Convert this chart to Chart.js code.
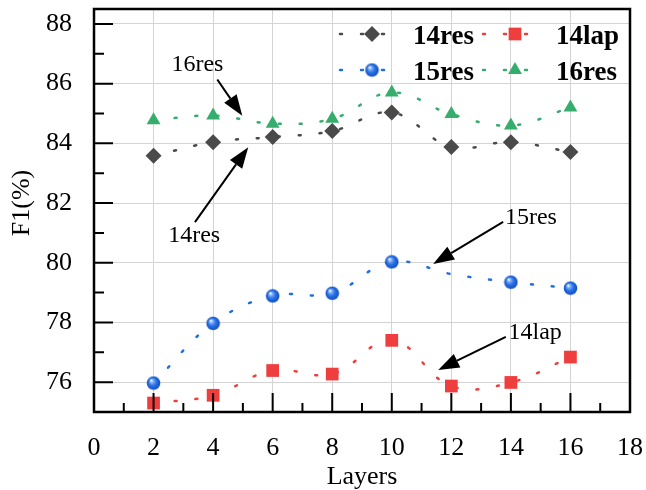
<!DOCTYPE html>
<html>
<head>
<meta charset="utf-8">
<title>F1 vs Layers</title>
<script src="https://cdn.jsdelivr.net/npm/chart.js@4.4.1/dist/chart.umd.min.js"></script>
<style>
  html, body { margin: 0; padding: 0; background: #fff; }
  #wrap { width: 646px; height: 490px; }
</style>
</head>
<body>
<div id="wrap"><canvas id="f1Chart" width="646" height="490"></canvas></div>
<script>
// === Data ===
const layers = [2, 4, 6, 8, 10, 12, 14, 16];
const res14 = [83.58, 84.04, 84.21, 84.41, 85.03, 83.88, 84.04, 83.71];
const lap14 = [75.30, 75.56, 76.39, 76.27, 77.40, 75.87, 75.99, 76.84];
const res15 = [75.97, 77.97, 78.89, 78.98, 80.03, 79.62, 79.35, 79.15];
const res16 = [84.77, 84.93, 84.66, 84.82, 85.70, 84.98, 84.60, 85.20];
const res15Shown = [true, true, true, true, true, false, true, true]; // no marker at 12
const xTicks = [0, 2, 4, 6, 8, 10, 12, 14, 16, 18];
const yTicks = [76, 78, 80, 82, 84, 86, 88];
const xMinor = [1, 3, 5, 7, 9, 11, 13, 15, 17];
const yMinor = [77, 79, 81, 83, 85, 87];

const SERIF = "'Liberation Serif', 'Times New Roman', serif";

// shaded ball marker used for 15res
function makeSphere(r) {
    const c = document.createElement('canvas');
    const s = Math.ceil(r * 2) + 1;
    c.width = c.height = s;
    const g = c.getContext('2d');
    const cx = s / 2;
    const grad = g.createRadialGradient(cx - r * 0.35, cx - r * 0.4, r * 0.05, cx, cx, r);
    grad.addColorStop(0, '#ffffff');
    grad.addColorStop(0.22, '#7fb0f7');
    grad.addColorStop(0.55, '#2a72e6');
    grad.addColorStop(1, '#0f4cc0');
    g.fillStyle = grad;
    g.beginPath();
    g.arc(cx, cx, r, 0, Math.PI * 2);
    g.fill();
    return c;
}
const sphere = makeSphere(6.8);

const series = [
    { label: '14res', values: res14, color: '#4a4a4a', style: 'rectRot', radius: 8 },
    { label: '14lap', values: lap14, color: '#ef3e3e', style: 'rect', radius: 9 },
    { label: '15res', values: res15, color: '#1f6fe3', style: sphere, radius: 6.8 },
    { label: '16res', values: res16, color: '#35ad6c', style: 'triangle', radius: 8 }
];

// notes drawn on the plot, positions in data units
const notes = [
    { text: '16res', tx: 2.6, ty: 86.41, from: [4.14, 86.14], to: [4.98, 84.92] },
    { text: '14res', tx: 2.49, ty: 80.71, from: [3.39, 81.36], to: [5.18, 83.87] },
    { text: '15res', tx: 13.8, ty: 81.3, from: [13.74, 81.37], to: [11.39, 79.96] },
    { text: '14lap', tx: 13.92, ty: 77.43, from: [13.83, 77.52], to: [11.56, 76.41] }
];

const DASH = [2, 19];

function drawArrow(ctx, x0, y0, x1, y1) {
    const ang = Math.atan2(y1 - y0, x1 - x0);
    const hl = 21, hw = 7.5;
    const bx = x1 - hl * Math.cos(ang), by = y1 - hl * Math.sin(ang);
    ctx.beginPath();
    ctx.moveTo(x0, y0);
    ctx.lineTo(bx, by);
    ctx.stroke();
    ctx.beginPath();
    ctx.moveTo(x1, y1);
    ctx.lineTo(bx + hw * Math.sin(ang), by - hw * Math.cos(ang));
    ctx.lineTo(bx - hw * Math.sin(ang), by + hw * Math.cos(ang));
    ctx.closePath();
    ctx.fill();
}

const framePlugin = {
    id: 'frameAndNotes',
    afterDatasetsDraw(chart) {
        const { ctx, chartArea: a, scales: { x, y } } = chart;
        ctx.save();

        // ticks pointing inwards
        ctx.strokeStyle = '#000';
        ctx.lineWidth = 2;
        ctx.beginPath();
        xTicks.forEach(v => { const px = x.getPixelForValue(v); ctx.moveTo(px, a.bottom); ctx.lineTo(px, a.bottom - 19); });
        xMinor.forEach(v => { const px = x.getPixelForValue(v); ctx.moveTo(px, a.bottom); ctx.lineTo(px, a.bottom - 9); });
        yTicks.forEach(v => { const py = y.getPixelForValue(v); ctx.moveTo(a.left, py); ctx.lineTo(a.left + 19, py); });
        yMinor.forEach(v => { const py = y.getPixelForValue(v); ctx.moveTo(a.left, py); ctx.lineTo(a.left + 10, py); });
        ctx.stroke();

        // frame
        ctx.lineWidth = 2.5;
        ctx.strokeRect(a.left, a.top, a.right - a.left, a.bottom - a.top);

        // notes with arrows
        ctx.fillStyle = '#000';
        ctx.lineWidth = 2;
        ctx.font = '24px ' + SERIF;
        ctx.textAlign = 'left';
        ctx.textBaseline = 'alphabetic';
        notes.forEach(n => {
            ctx.fillText(n.text, x.getPixelForValue(n.tx), y.getPixelForValue(n.ty));
            drawArrow(ctx,
                x.getPixelForValue(n.from[0]), y.getPixelForValue(n.from[1]),
                x.getPixelForValue(n.to[0]), y.getPixelForValue(n.to[1]));
        });

        // legend, two columns
        const cols = [341, 484];
        const rows = [34, 70];
        series.forEach((s, i) => {
            const lx = cols[i % 2], ly = rows[Math.floor(i / 2)];
            ctx.save();
            ctx.strokeStyle = s.color;
            ctx.lineWidth = 2.5;
            ctx.lineCap = 'round';
            ctx.setLineDash(DASH);
            ctx.beginPath();
            ctx.moveTo(lx - 1, ly);
            ctx.lineTo(lx + 44, ly);
            ctx.stroke();
            ctx.restore();
            ctx.fillStyle = s.color;
            Chart.helpers.drawPoint(ctx, { pointStyle: s.style, radius: s.radius, rotation: 0, borderWidth: 0 }, lx + 31, ly);
            ctx.fillStyle = '#000';
            ctx.font = 'bold 27px ' + SERIF;
            ctx.fillText(s.label, lx + 72, ly + 9.5);
        });

        // y axis title
        ctx.save();
        ctx.translate(22.5, 203);
        ctx.rotate(-Math.PI / 2);
        ctx.font = '26px ' + SERIF;
        ctx.textAlign = 'center';
        ctx.textBaseline = 'middle';
        ctx.fillText('F1(%)', 0, 0);
        ctx.restore();

        ctx.restore();
    }
};

const ctx = document.getElementById('f1Chart').getContext('2d');
new Chart(ctx, {
    type: 'line',
    data: {
        datasets: series.map(s => ({
            label: s.label,
            data: layers.map((l, i) => ({ x: l, y: s.values[i] })),
            borderColor: s.color,
            backgroundColor: s.color,
            borderWidth: 2.5,
            borderDash: DASH,
            borderCapStyle: 'round',
            tension: 0.4,
            fill: false,
            pointStyle: s.style,
            pointRadius: s.label === '15res' ? res15Shown.map(v => v ? s.radius : 0) : s.radius,
            pointBorderWidth: 0,
            pointHoverRadius: s.radius
        }))
    },
    options: {
        responsive: false,
        animation: false,
        layout: { padding: { top: 9, right: 16, left: 0, bottom: 0 } },
        plugins: {
            legend: { display: false },
            tooltip: { enabled: false }
        },
        scales: {
            x: {
                type: 'linear',
                min: 0,
                max: 18,
                afterBuildTicks: scale => { scale.ticks = xTicks.map(v => ({ value: v })); },
                afterFit: scale => {
                    scale.height = 78;
                    scale.paddingLeft = 0;
                    scale.paddingRight = 0;
                },
                grid: { color: '#d4d4d4', lineWidth: 1, drawTicks: false },
                border: { display: false },
                ticks: { color: '#000', padding: 21, font: { family: SERIF, size: 26 } },
                title: {
                    display: true,
                    text: 'Layers',
                    color: '#000',
                    padding: { top: 0, bottom: 0 },
                    font: { family: SERIF, size: 26, lineHeight: 1.0 }
                }
            },
            y: {
                min: 75,
                max: 88.5,
                afterBuildTicks: scale => { scale.ticks = yTicks.map(v => ({ value: v })); },
                afterFit: scale => {
                    scale.width = 94;
                    scale.paddingTop = 0;
                    scale.paddingBottom = 0;
                },
                grid: { color: '#d4d4d4', lineWidth: 1, drawTicks: false },
                border: { display: false },
                ticks: { color: '#000', padding: 22, font: { family: SERIF, size: 26 } }
            }
        }
    },
    plugins: [framePlugin]
});
</script>
</body>
</html>
